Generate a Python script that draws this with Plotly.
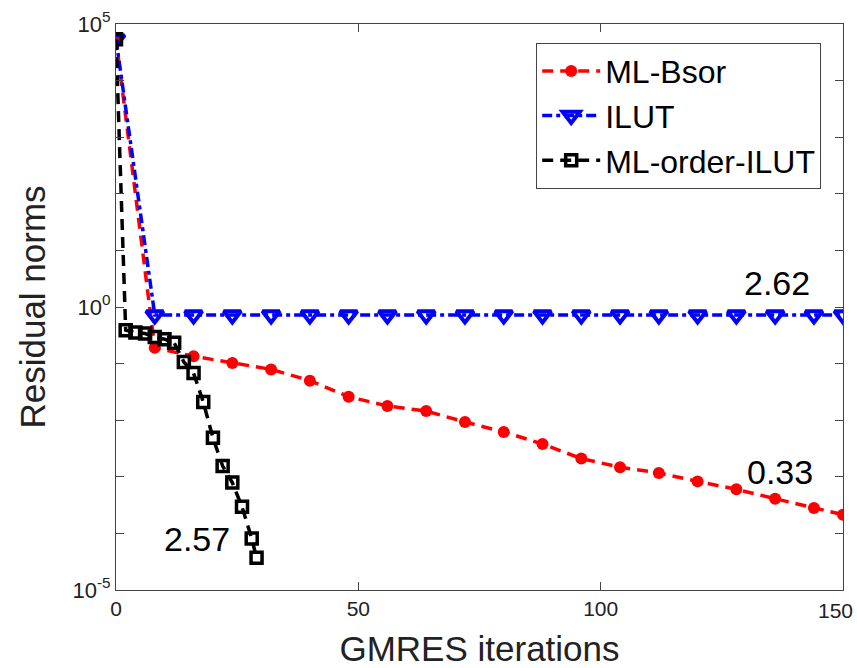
import math
import plotly.graph_objects as go

# ---- data ----
iters_bsor = [0, 8, 16, 24, 32, 40, 48, 56, 64, 72, 80, 88, 96, 104, 112, 120, 128, 136, 144, 150]
res_bsor = [5.4e4, 0.19, 0.135, 0.102, 0.079, 0.050, 0.026, 0.0178, 0.0145, 0.0093, 0.0062,
            0.0038, 0.0021, 0.00148, 0.00117, 0.00083, 0.0006, 0.00041, 0.00028, 0.000214]

iters_ilut = [0, 8, 16, 24, 32, 40, 48, 56, 64, 72, 80, 88, 96, 104, 112, 120, 128, 136, 144, 150]
res_ilut = [5.4e4, 0.72, 0.72, 0.72, 0.72, 0.72, 0.72, 0.72, 0.72, 0.72, 0.72,
            0.72, 0.72, 0.72, 0.72, 0.72, 0.72, 0.72, 0.72, 0.72]

iters_order = [0, 2, 4, 6, 8, 10, 12, 14, 16, 18, 20, 22, 24, 26, 28, 29]
res_order = [5.4e4, 0.39, 0.355, 0.34, 0.295, 0.27, 0.234, 0.107, 0.068, 0.021, 0.0049,
             0.00155, 0.00079, 0.000295, 0.0000813, 0.0000372]

series_names = ["ML-Bsor", "ILUT", "ML-order-ILUT"]

note_texts = ["2.62", "0.33", "2.57"]
note_x = [136.3, 137, 16.8]
note_y = [2.66, 0.0012, 0.000081]

x_ticks = [0, 50, 100, 150]
x_ticklabels = ["0", "50", "100", "150"]
y_tick_exps = [-5, -4, -3, -2, -1, 0, 1, 2, 3, 4, 5]
y_labeled_exps = [-5, 0, 5]

FONT = "Liberation Sans, Arial, sans-serif"

fig = go.Figure()
fig.add_trace(go.Scatter(
    x=iters_bsor, y=res_bsor, name=series_names[0], mode="lines+markers",
    line=dict(color="#ff0000", width=3.5, dash="11px,7px"),
    marker=dict(symbol="circle", size=12, color="#ff0000"),
))
fig.add_trace(go.Scatter(
    x=iters_ilut, y=res_ilut, name=series_names[1], mode="lines+markers",
    line=dict(color="#0000ff", width=3.5, dash="10px,4px,4px,4px"),
    marker=dict(symbol="triangle-down-open", size=15, color="#0000ff",
                line=dict(width=4, color="#0000ff")),
))
fig.add_trace(go.Scatter(
    x=iters_order, y=res_order, name=series_names[2], mode="lines+markers",
    line=dict(color="#000000", width=3.5, dash="11px,7px"),
    marker=dict(symbol="square-open", size=11, color="#000000",
                line=dict(width=3.5, color="#000000")),
))

for t, xx, yy in zip(note_texts, note_x, note_y):
    fig.add_annotation(x=xx, y=math.log10(yy), yref="y", xref="x", text=t, showarrow=False,
                       font=dict(family=FONT, size=34, color="black"))

# last x tick label: drawn as text kept inside the page (as in the reference)
fig.add_annotation(x=x_ticks[-1], xref="x", xanchor="right", xshift=12,
                   y=0, yref="paper", yanchor="top", yshift=-7,
                   text=x_ticklabels[-1], showarrow=False,
                   font=dict(family=FONT, size=21, color="#222"))

y_tickvals = [10 ** e for e in y_tick_exps]
y_ticktext = [("10<sup>%d</sup>" % e) if e in y_labeled_exps else "" for e in y_tick_exps]

axis_color = "#444444"
fig.update_xaxes(
    range=[0, 150], tickvals=x_ticks, ticktext=x_ticklabels[:-1] + [""], ticks="inside", ticklen=8,
    tickcolor=axis_color, showline=True, linecolor=axis_color, linewidth=1, mirror="ticks",
    showgrid=False, zeroline=False, tickfont=dict(family=FONT, size=21, color="#222"),
    automargin=False,
    title=dict(text="GMRES iterations", font=dict(family=FONT, size=35, color="#222"), standoff=22),
)
fig.update_yaxes(
    type="log", range=[-5, 5], tickvals=y_tickvals, ticktext=y_ticktext, ticks="inside",
    ticklen=8, tickcolor=axis_color, showline=True, linecolor=axis_color, linewidth=1,
    mirror="ticks", showgrid=False, zeroline=False, automargin=False,
    tickfont=dict(family=FONT, size=22, color="#222"),
    title=dict(text="Residual norms", font=dict(family=FONT, size=35, color="#222"), standoff=16),
)

fig.update_layout(
    width=857, height=668, autosize=False,
    margin=dict(l=116, r=14, t=24, b=78),
    paper_bgcolor="white", plot_bgcolor="white",
    font=dict(family=FONT, color="black"),
    legend=dict(
        x=0.970, y=0.967, xanchor="right", yanchor="top",
        bgcolor="white", bordercolor="#444", borderwidth=1,
        font=dict(family=FONT, size=32, color="black"),
        itemwidth=58, tracegroupgap=0,
    ),
    showlegend=True,
)

fig.write_html("out.html")
